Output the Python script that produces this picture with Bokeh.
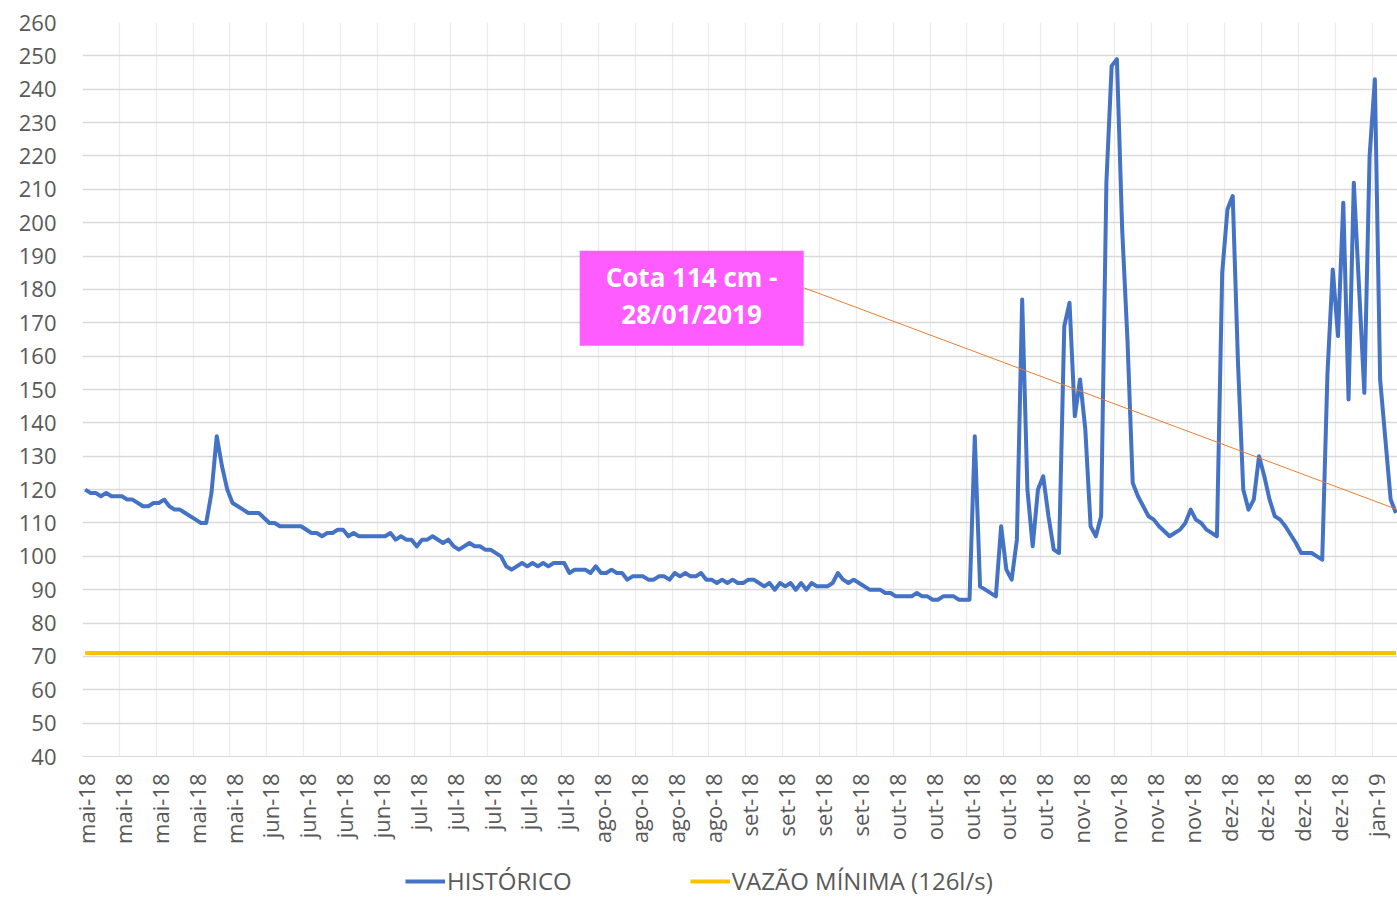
from bokeh.plotting import figure
from bokeh.models import (FixedTicker, Legend, LegendItem, BoxAnnotation, Label,
                          Segment, ColumnDataSource, Range1d)
from bokeh.layouts import column
from bokeh.embed import file_html
from bokeh.resources import INLINE
import math

# ---- data ----
tick_labels = (["mai-18"] * 5 + ["jun-18"] * 4 + ["jul-18"] * 5 + ["ago-18"] * 4 +
               ["set-18"] * 4 + ["out-18"] * 5 + ["nov-18"] * 4 + ["dez-18"] * 4 + ["jan-19"])

# day index since 01/05/2018
hist_day = [0, 1, 2, 3, 4, 5, 7, 8, 9, 11, 12, 13, 14, 15, 16, 17, 18, 19, 21, 22,
            23, 24, 25, 26, 27, 28, 29, 30, 31, 33, 35, 36, 37, 41, 43, 44, 45, 46, 47, 48,
            49, 50, 51, 52, 57, 58, 59, 60, 61, 62, 63, 64, 65, 66, 68, 69, 70, 71, 73, 74,
            75, 76, 77, 79, 80, 81, 83, 84, 85, 86, 87, 88, 89, 91, 92, 93, 95, 96, 97, 98,
            99, 100, 101, 102, 103, 104, 106, 107, 108, 109, 110, 111, 112, 113, 114, 115, 116, 117, 118, 119,
            120, 121, 122, 123, 124, 125, 126, 127, 129, 130, 131, 132, 133, 134, 135, 136, 137, 138, 139, 141,
            142, 143, 144, 145, 146, 147, 149, 151, 152, 153, 154, 157, 158, 159, 160, 161, 162, 163, 165, 166,
            168, 169, 170, 171, 173, 174, 175, 176, 177, 178, 179, 180, 181, 182, 183, 184, 185, 186, 187, 188,
            189, 190, 191, 192, 193, 194, 195, 196, 197, 198, 199, 200, 202, 203, 204, 206, 208, 209, 210, 211,
            212, 213, 215, 216, 217, 218, 219, 220, 221, 222, 223, 224, 225, 226, 227, 228, 230, 231, 233, 234,
            235, 236, 237, 238, 239, 240, 241, 243, 244, 245, 246, 248, 249]
hist_val = [120, 119, 119, 118, 119, 118, 118, 117, 117, 115, 115, 116, 116, 117, 115, 114, 114, 113, 111, 110,
            110, 119, 136, 127, 120, 116, 115, 114, 113, 113, 110, 110, 109, 109, 107, 107, 106, 107, 107, 108,
            108, 106, 107, 106, 106, 107, 105, 106, 105, 105, 103, 105, 105, 106, 104, 105, 103, 102, 104, 103,
            103, 102, 102, 100, 97, 96, 98, 97, 98, 97, 98, 97, 98, 98, 95, 96, 96, 95, 97, 95,
            95, 96, 95, 95, 93, 94, 94, 93, 93, 94, 94, 93, 95, 94, 95, 94, 94, 95, 93, 93,
            92, 93, 92, 93, 92, 92, 93, 93, 91, 92, 90, 92, 91, 92, 90, 92, 90, 92, 91, 91,
            92, 95, 93, 92, 93, 92, 90, 90, 89, 89, 88, 88, 89, 88, 88, 87, 87, 88, 88, 87,
            87, 136, 91, 90, 88, 109, 96, 93, 105, 177, 120, 103, 120, 124, 112, 102, 101, 169, 176, 142,
            153, 138, 109, 106, 112, 212, 247, 249, 198, 165, 122, 118, 112, 111, 109, 106, 108, 110, 114, 111,
            110, 108, 106, 185, 204, 208, 158, 120, 114, 117, 130, 124, 117, 112, 111, 109, 104, 101, 101, 100,
            99, 155, 186, 166, 206, 147, 212, 149, 220, 243, 153, 117, 113]
min_flow = 71
y_ticks = list(range(40, 261, 10))
series_names = ["HISTÓRICO", "VAZÃO MÍNIMA (126l/s)"]

# ---- figure ----
GRAY = "#595959"
FONT = "Open Sans"
BLUE = "#4472C4"
GOLD = "#FFC000"
xs = [d + 0.5 for d in hist_day]

p = figure(width=1397, height=860, output_backend="svg", toolbar_location=None,
           x_range=Range1d(0, 249.8), y_range=Range1d(40, 260),
           min_border_left=82, min_border_right=0, min_border_top=22, min_border_bottom=104)
p.outline_line_color = None
p.background_fill_color = "white"
p.border_fill_color = "white"

week_ticks = [7 * i for i in range(len(tick_labels))]
label_ticks = [t + 0.7 for t in week_ticks]

p.xaxis.ticker = FixedTicker(ticks=label_ticks)
p.xaxis.major_label_overrides = {t: lab for t, lab in zip(label_ticks, tick_labels)}
p.xaxis.major_label_orientation = math.pi / 2
p.xaxis.major_label_text_font = FONT
p.xaxis.major_label_text_font_size = "22px"
p.xaxis.major_label_text_color = GRAY
p.xaxis.major_label_standoff = 17
p.xaxis.major_tick_out = 0
p.xaxis.major_tick_in = 0
p.xaxis.minor_tick_out = 0
p.xaxis.minor_tick_in = 0
p.xaxis.axis_line_color = "#D9D9D9"

p.yaxis.ticker = FixedTicker(ticks=y_ticks)
p.yaxis.major_label_text_font = FONT
p.yaxis.major_label_text_font_size = "22px"
p.yaxis.major_label_text_color = GRAY
p.yaxis.major_label_standoff = 26
p.yaxis.major_tick_out = 0
p.yaxis.major_tick_in = 0
p.yaxis.minor_tick_out = 0
p.yaxis.minor_tick_in = 0
p.yaxis.axis_line_color = None

p.xgrid.ticker = FixedTicker(ticks=week_ticks)
p.xgrid.grid_line_color = "#EBEBEB"
p.xgrid.grid_line_width = 1.2
p.ygrid.ticker = FixedTicker(ticks=y_ticks)
p.ygrid.grid_line_color = "#D9D9D9"
p.ygrid.grid_line_width = 1.5

p.line(xs, [min_flow] * len(xs), line_color=GOLD, line_width=4)
p.line(xs, hist_val, line_color=BLUE, line_width=4, line_join="round")

# annotation callout
seg_src = ColumnDataSource(dict(x0=[137.0], y0=[180.5], x1=[249.8], y1=[114]))
p.add_glyph(seg_src, Segment(x0="x0", y0="y0", x1="x1", y1="y1", line_color="#ED7D31", line_width=1))
box = BoxAnnotation(left=94.45, right=137.0, bottom=163.1, top=191.6,
                    fill_color="#FF5CFF", fill_alpha=1.0, line_color=None, level="annotation")
p.add_layout(box)
for txt, yy in (("Cota 114 cm -", 183.6), ("28/01/2019", 172.6)):
    p.add_layout(Label(x=115.7, y=yy, text=txt, text_align="center", text_baseline="middle",
                       text_color="white", text_font=FONT, text_font_style="bold",
                       text_font_size="26px", level="overlay"))

# ---- legend strip ----
lg = figure(width=1397, height=37, output_backend="svg", toolbar_location=None,
            x_range=Range1d(0, 1), y_range=Range1d(0, 1),
            min_border_left=0, min_border_right=0, min_border_top=0, min_border_bottom=0)
lg.axis.visible = False
lg.grid.visible = False
lg.outline_line_color = None
lr1 = lg.line([-5, -4], [-5, -4], line_color=BLUE, line_width=4)
lr2 = lg.line([-5, -4], [-5, -4], line_color=GOLD, line_width=4)
legend = Legend(items=[LegendItem(label=series_names[0], renderers=[lr1]),
                       LegendItem(label=series_names[1], renderers=[lr2])],
                orientation="horizontal", location=(323, 0),
                glyph_width=40, glyph_height=20, label_standoff=2, spacing=118,
                padding=0, margin=0, border_line_color=None, background_fill_alpha=0,
                label_text_font=FONT, label_text_font_size="24px", label_text_color=GRAY)
lg.add_layout(legend)

layout = column(p, lg, spacing=0)
html = file_html(layout, INLINE)
html = html.replace("<head>", "<head><style>html,body{overflow:hidden}</style>", 1)
open("out.html", "w").write(html)
